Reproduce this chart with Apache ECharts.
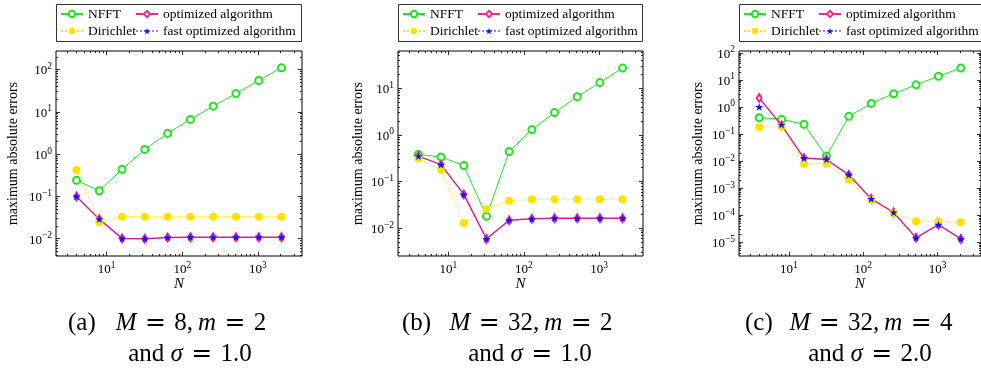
<!DOCTYPE html>
<html>
<head>
<meta charset="utf-8">
<script src="https://cdn.jsdelivr.net/npm/echarts@6.0.0/dist/echarts.min.js"></script>
<style>
  html, body { margin: 0; padding: 0; background: #fff; }
  #main { width: 981px; height: 369px; }
</style>
</head>
<body>
<div id="main"></div>
<script>
// problem size N
var sizes = [4, 8, 16, 32, 64, 128, 256, 512, 1024, 2048];

// (a) M = 8, m = 2, sigma = 1.0
var nfftA = [0.24, 0.136, 0.44, 1.29, 3.1, 6.6, 13.6, 27, 55, 110];
var dirichletA = [0.42, 0.025, 0.033, 0.033, 0.033, 0.033, 0.033, 0.033, 0.033, 0.033];
var optA = [0.1, 0.029, 0.0102, 0.0100, 0.0107, 0.0109, 0.0109, 0.0109, 0.0109, 0.0109];
var fastA = [0.1, 0.029, 0.0102, 0.0100, 0.0107, 0.0109, 0.0109, 0.0109, 0.0109, 0.0109];

// (b) M = 32, m = 2, sigma = 1.0
var nfftB = [0.38, 0.336, 0.22, 0.018, 0.44, 1.3, 3.0, 6.6, 13.2, 27];
var dirichletB = [0.31, 0.18, 0.013, 0.026, 0.039, 0.041, 0.042, 0.042, 0.042, 0.042];
var optB = [0.35, 0.23, 0.053, 0.0059, 0.0148, 0.0159, 0.0164, 0.0164, 0.0164, 0.0164];
var fastB = [0.35, 0.23, 0.053, 0.0059, 0.0148, 0.0159, 0.0164, 0.0164, 0.0164, 0.0164];

// (c) M = 32, m = 4, sigma = 2.0
var nfftC = [0.4, 0.35, 0.23, 0.015, 0.45, 1.36, 3.1, 6.6, 13.7, 27.5];
var dirichletC = [0.18, 0.19, 0.008, 0.008, 0.0021, 0.00036, 0.000118, 0.00006, 0.000059, 0.000054];
var optC = [2.15, 0.21, 0.0129, 0.0115, 0.0031, 0.0004, 0.000126, 0.0000145, 0.0000447, 0.0000132];
var fastC = [1.0, 0.22, 0.0129, 0.0115, 0.0031, 0.0004, 0.000126, 0.0000145, 0.0000447, 0.0000132];

// tick labels
var xMajor = [10, 100, 1000];
var yMajorA = [0.01, 0.1, 1, 10, 100];
var yMajorB = [0.01, 0.1, 1, 10];
var yMajorC = [0.00001, 0.0001, 0.001, 0.01, 0.1, 1, 10, 100];

var seriesNames = ['NFFT', 'optimized algorithm', 'Dirichlet', 'fast optimized algorithm'];
var captionLabels = ['(a)', '(b)', '(c)'];
var captionLine1 = [['M', '8', 'm', '2'], ['M', '32', 'm', '2'], ['M', '32', 'm', '4']];
var captionLine2 = ['1.0', '1.0', '2.0'];

var FONT = '"Liberation Serif", "DejaVu Serif", serif';
var STAR = 'path://M0,-10L2.35,-3.24L9.51,-3.09L3.8,1.24L5.88,8.09L0,4L-5.88,8.09L-3.8,1.24L-9.51,-3.09L-2.35,-3.24Z';

var panels = [
  { left: 56, width: 246, yMin: 0.00391, yMax: 273.5, yMajor: yMajorA, data: [nfftA, optA, dirichletA, fastA],
    nameGap: 36, capX: 68, capMid: 191 },
  { left: 398, width: 245, yMin: 0.00254, yMax: 62.7, yMajor: yMajorB, data: [nfftB, optB, dirichletB, fastB],
    nameGap: 33, capX: 402, capMid: 531 },
  { left: 739, width: 246, yMin: 3.08e-6, yMax: 117.8, yMajor: yMajorC, data: [nfftC, optC, dirichletC, fastC],
    nameGap: 34, capX: 745, capMid: 871 }
];
var xMin = 2.143, xMax = 3819;

function minorTicks(lo, hi) {
  var out = [];
  for (var e = Math.floor(Math.log10(lo)); e <= Math.ceil(Math.log10(hi)); e++) {
    for (var k = 2; k <= 9; k++) {
      var v = k * Math.pow(10, e);
      if (v >= lo && v <= hi) out.push(v);
    }
  }
  return out;
}

function supLabel(v) {
  var e = Math.round(Math.log10(v));
  return '{b|10}{s|' + String(e).replace('-', '\u2212') + '}';
}

var labelRich = {
  b: { fontFamily: FONT, fontSize: 13, color: '#000', verticalAlign: 'bottom' },
  s: { fontFamily: FONT, fontSize: 9.5, color: '#000', verticalAlign: 'bottom', padding: [0, 0, 6, 0] }
};

function makeAxis(gi, dim, pos, min, max, ticks, len, labels, extra) {
  var ax = {
    type: 'log', logBase: 10, gridIndex: gi, position: pos, min: min, max: max,
    axisLine: { show: false },
    splitLine: { show: false },
    nameMoveOverlap: false,
    axisTick: { show: true, inside: true, length: len, customValues: ticks, lineStyle: { color: '#000', width: 0.8 } },
    axisLabel: labels ? { show: true, customValues: labels, formatter: supLabel, rich: labelRich, margin: 4 } : { show: false }
  };
  if (extra) Object.assign(ax, extra);
  return ax;
}

var grids = [], xAxes = [], yAxes = [], series = [], legends = [], graphics = [];

panels.forEach(function (p, i) {
  grids.push({ left: p.left, top: 51, width: p.width, height: 205, show: true, borderColor: '#000', borderWidth: 1, backgroundColor: 'transparent' });
  var xm = minorTicks(xMin, xMax), ym = minorTicks(p.yMin, p.yMax);
  xAxes.push(makeAxis(i, 'x', 'bottom', xMin, xMax, xMajor, 4, xMajor, {
    name: 'N', nameLocation: 'middle', nameGap: 21,
    nameTextStyle: { fontFamily: FONT, fontSize: 15, fontStyle: 'italic', color: '#000' }
  }));
  xAxes.push(makeAxis(i, 'x', 'bottom', xMin, xMax, xm, 2, null));
  xAxes.push(makeAxis(i, 'x', 'top', xMin, xMax, xMajor, 4, null));
  xAxes.push(makeAxis(i, 'x', 'top', xMin, xMax, xm, 2, null));
  yAxes.push(makeAxis(i, 'y', 'left', p.yMin, p.yMax, p.yMajor, 4, p.yMajor, {
    name: 'maximum absolute errors', nameLocation: 'middle', nameGap: p.nameGap,
    nameTextStyle: { fontFamily: FONT, fontSize: 14, color: '#000' }
  }));
  yAxes.push(makeAxis(i, 'y', 'left', p.yMin, p.yMax, ym, 2, null));
  yAxes.push(makeAxis(i, 'y', 'right', p.yMin, p.yMax, p.yMajor, 4, null));
  yAxes.push(makeAxis(i, 'y', 'right', p.yMin, p.yMax, ym, 2, null));

  var styles = [
    { color: '#1ee61e', symbol: 'emptyCircle', symbolSize: 7, lineType: 'solid', width: 1, opacity: 1 },
    { color: '#f0288c', symbol: 'emptyDiamond', symbolSize: [5, 8], lineType: 'solid', width: 1.5, opacity: 1 },
    { color: '#ffe100', symbol: 'circle', symbolSize: 8, lineType: 'dotted', width: 1, opacity: 1 },
    { color: '#1010ff', symbol: STAR, symbolSize: 8, lineType: 'dotted', width: 0.8, opacity: 0.5 }
  ];
  seriesNames.forEach(function (name, k) {
    var s = styles[k];
    series.push({
      name: name, type: 'line', xAxisIndex: i * 4, yAxisIndex: i * 4,
      data: sizes.map(function (n, j) { return [n, p.data[k][j]]; }),
      symbol: s.symbol, symbolSize: s.symbolSize, symbolKeepAspect: true, showAllSymbol: true,
      itemStyle: { color: s.color, borderWidth: 1 },
      lineStyle: { color: s.color, width: s.width, type: s.lineType, opacity: s.opacity },
      emphasis: { disabled: true }, animation: false, z: 2 + k
    });
  });

  var lx = p.left + 1;
  var legendCommon = {
    orient: 'vertical', top: 7, itemWidth: 22, itemHeight: 8, itemGap: 3, padding: 0,
    textStyle: { fontFamily: FONT, fontSize: 13.5, color: '#000' }, selectedMode: false
  };
  legends.push(Object.assign({ left: lx + 3, data: ['NFFT', 'Dirichlet'] }, legendCommon));
  legends.push(Object.assign({ left: lx + 78, data: ['optimized algorithm', 'fast optimized algorithm'] }, legendCommon));
  graphics.push({ type: 'rect', shape: { x: lx - 0.5, y: 4.5, width: p.width - 1, height: 37 },
    style: { fill: 'none', stroke: '#333', lineWidth: 1 }, silent: true });

  // caption
  var c = captionLine1[i];
  var capFont = '25px ' + FONT, capItal = 'italic 25px ' + FONT;
  var capRich = { i: { font: capItal, fill: '#000' }, e: { font: '25px "DejaVu Serif"', fill: '#000' } };
  var eq = '\u2004{e|=}\u2004';
  graphics.push({ type: 'text', x: p.capX, y: 323,
    style: { text: captionLabels[i], font: capFont, fill: '#000', align: 'left', verticalAlign: 'middle' } });
  graphics.push({ type: 'text', x: p.capMid, y: 323,
    style: { text: '{i|' + c[0] + '}' + eq + c[1] + ',\u2009{i|' + c[2] + '}' + eq + c[3],
      font: capFont, fill: '#000', align: 'center', verticalAlign: 'middle', rich: capRich } });
  graphics.push({ type: 'text', x: p.capMid - 1, y: 354,
    style: { text: 'and {i|\u03c3}' + eq + captionLine2[i],
      font: capFont, fill: '#000', align: 'center', verticalAlign: 'middle', rich: capRich } });
});

var chart = echarts.init(document.getElementById('main'), null, { renderer: 'canvas' });
chart.setOption({
  backgroundColor: '#fff',
  animation: false,
  textStyle: { fontFamily: FONT },
  grid: grids,
  xAxis: xAxes,
  yAxis: yAxes,
  legend: legends,
  series: series,
  graphic: graphics
});
</script>
</body>
</html>
